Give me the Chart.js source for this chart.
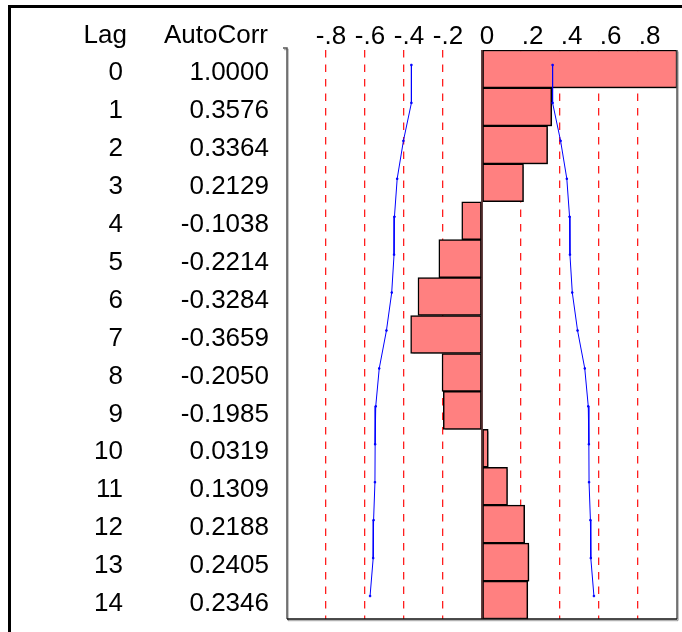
<!DOCTYPE html>
<html>
<head>
<meta charset="utf-8">
<title>Autocorrelation</title>
<script src="https://cdn.jsdelivr.net/npm/chart.js@4/dist/chart.umd.min.js"></script>
<style>
  body { margin: 0; background: #fff; }
</style>
</head>
<body>
<canvas id="acfChart" width="682" height="632"></canvas>
<script>
const lags = ['0', '1', '2', '3', '4', '5', '6', '7', '8', '9', '10', '11', '12', '13', '14'];
const autoCorr = [1.0000, 0.3576, 0.3364, 0.2129, -0.1038, -0.2214, -0.3284, -0.3659,
                  -0.2050, -0.1985, 0.0319, 0.1309, 0.2188, 0.2405, 0.2346];
// 2 std err bands
const upperLimit = [0.362, 0.362, 0.403, 0.435, 0.449, 0.451, 0.463, 0.490,
                    0.527, 0.545, 0.548, 0.549, 0.556, 0.558, 0.574];
const lowerLimit = [-0.362, -0.362, -0.403, -0.435, -0.449, -0.451, -0.463, -0.490,
                    -0.527, -0.545, -0.548, -0.549, -0.556, -0.558, -0.574];
const tickValues = [-0.8, -0.6, -0.4, -0.2, 0, 0.2, 0.4, 0.6, 0.8];
const tickLabels = ['-.8', '-.6', '-.4', '-.2', '0', '\u2002.2', '\u2002.4', '\u2002.6', '\u2002.8'];

const FAMILY = '"Liberation Sans", Arial, sans-serif';
const FONT = '26px ' + FAMILY;

let tableText = {
    id: 'tableText',
    beforeDatasetDraw(chart, args) {
        const ctx = chart.ctx;
        ctx.save();
        if (args.meta.type === 'bar') {
            ctx.shadowColor = 'rgba(0, 0, 0, 0.3)';
            ctx.shadowOffsetX = 2;
            ctx.shadowOffsetY = 2;
        } else {
            // band vertices sit a little above the row middle
            ctx.translate(0, -4);
        }
    },
    afterDatasetDraw(chart) {
        chart.ctx.restore();
    },
    afterDatasetsDraw(chart) {
        const ctx = chart.ctx;
        const area = chart.chartArea;
        const x0 = chart.scales.x.getPixelForValue(0);
        ctx.save();
        // zero line
        ctx.strokeStyle = 'rgba(70, 30, 30, 0.85)';
        ctx.lineWidth = 2;
        ctx.beginPath();
        ctx.moveTo(x0, area.top);
        ctx.lineTo(x0, area.bottom);
        ctx.stroke();
        // plot frame, no top edge
        ctx.shadowColor = 'rgba(0, 0, 0, 0.3)';
        ctx.shadowOffsetX = 1;
        ctx.shadowOffsetY = 1.5;
        ctx.strokeStyle = '#555';
        ctx.lineWidth = 1.5;
        ctx.beginPath();
        ctx.moveTo(area.left - 4, area.top - 2);
        ctx.lineTo(area.left, area.top - 2);
        ctx.lineTo(area.left, area.bottom);
        ctx.moveTo(area.right, area.top);
        ctx.lineTo(area.right, area.bottom);
        ctx.stroke();
        ctx.strokeStyle = '#111';
        ctx.beginPath();
        ctx.moveTo(area.left, area.bottom);
        ctx.lineTo(area.right, area.bottom);
        ctx.stroke();
        ctx.restore();
    },
    afterDraw(chart) {
        const ctx = chart.ctx;
        const yScale = chart.scales.y;
        ctx.save();
        ctx.font = FONT;
        ctx.fillStyle = '#000';
        ctx.textAlign = 'right';
        ctx.textBaseline = 'middle';
        const headY = yScale.getPixelForValue(0) - 33;
        ctx.fillText('Lag', 127, headY);
        ctx.fillText('AutoCorr', 268, headY);
        lags.forEach((lag, i) => {
            const y = yScale.getPixelForValue(i) + 4;
            ctx.fillText(lag, 123, y);
            ctx.fillText(autoCorr[i].toFixed(4), 269, y);
        });
        // outer frame
        ctx.strokeStyle = '#000';
        ctx.lineWidth = 3;
        ctx.strokeRect(9.5, 6.5, 800, 800);
        ctx.restore();
    }
};

let ctx = document.getElementById('acfChart').getContext('2d');
let acfChart = new Chart(ctx, {
    type: 'bar',
    data: {
        labels: lags,
        datasets: [
            {
                type: 'line',
                data: upperLimit,
                borderColor: 'rgb(0, 0, 255)',
                backgroundColor: 'rgb(0, 0, 255)',
                borderWidth: 1,
                pointRadius: 1,
                pointStyle: 'rect',
                tension: 0,
                order: 1
            },
            {
                type: 'line',
                data: lowerLimit,
                borderColor: 'rgb(0, 0, 255)',
                backgroundColor: 'rgb(0, 0, 255)',
                borderWidth: 1,
                pointRadius: 1,
                pointStyle: 'rect',
                tension: 0,
                order: 1
            },
            {
                data: autoCorr,
                backgroundColor: 'rgb(255, 128, 128)',
                borderColor: '#000',
                borderWidth: 1.5,
                borderSkipped: false,
                barPercentage: 1,
                categoryPercentage: 1,
                order: 2
            }
        ]
    },
    options: {
        indexAxis: 'y',
        responsive: false,
        animation: false,
        layout: { padding: { left: 287, right: 1, top: 0, bottom: 13 } },
        plugins: { legend: { display: false }, tooltip: { enabled: false } },
        scales: {
            x: {
                type: 'linear',
                position: 'top',
                min: -1,
                max: 1,
                afterFit: (scale) => { scale.height = 50; },
                ticks: {
                    stepSize: 0.2,
                    padding: -2,
                    labelOffset: 5,
                    autoSkip: false,
                    maxRotation: 0,
                    minRotation: 0,
                    color: '#000',
                    font: { family: FAMILY, size: 26 },
                    callback: (value) => {
                        let idx = tickValues.findIndex(t => Math.abs(t - value) < 1e-6);
                        return idx >= 0 ? tickLabels[idx] : '';
                    }
                },
                grid: {
                    drawTicks: false,
                    lineWidth: 1.3,
                    color: (c) => {
                        let v = Math.abs(c.tick.value);
                        return (v > 0.01 && v < 0.99) ? 'rgb(255, 30, 30)' : 'rgba(0,0,0,0)';
                    }
                },
                border: { display: false, dash: [7.5, 7] }
            },
            y: {
                display: false
            }
        }
    },
    plugins: [tableText]
});
</script>
</body>
</html>
